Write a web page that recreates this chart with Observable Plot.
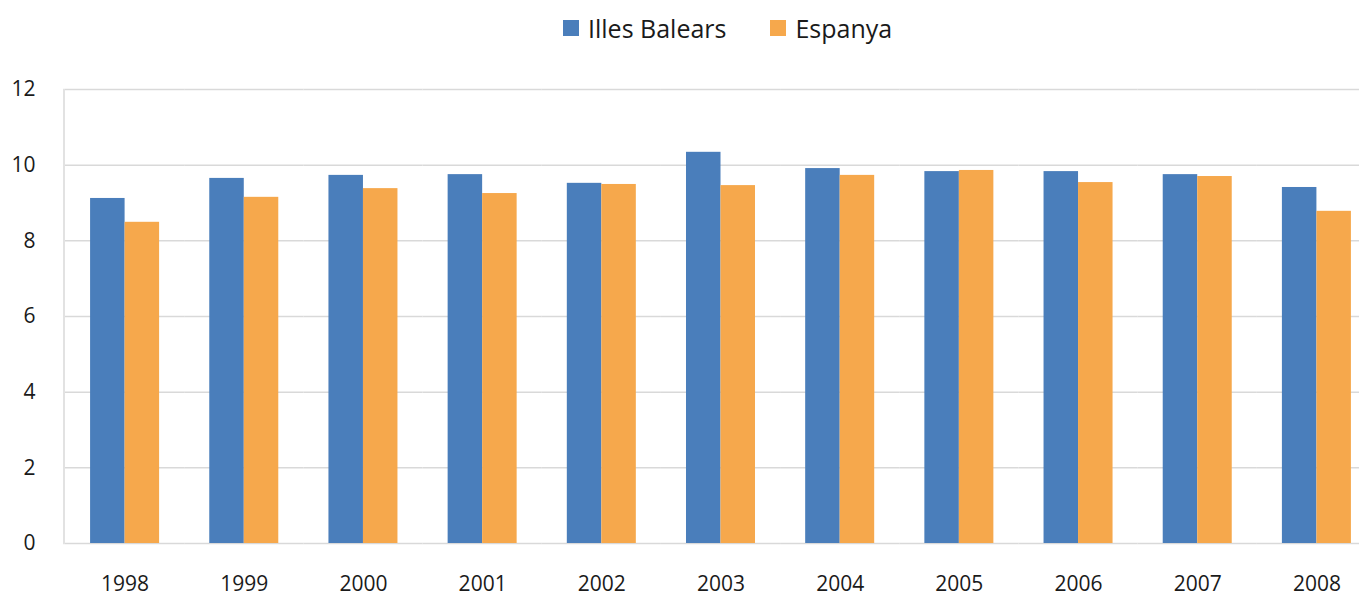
<!DOCTYPE html>
<html><head><meta charset="utf-8">
<script src="https://cdn.jsdelivr.net/npm/d3@7"></script>
<script src="https://cdn.jsdelivr.net/npm/@observablehq/plot@0.6"></script>
<style>
html,body{margin:0;padding:0;background:#fff;overflow:hidden;width:1359px;height:599px;}
#legend{height:56px;display:flex;justify-content:flex-start;align-items:center;gap:44px;padding-left:563px;box-sizing:border-box;font-family:"Open Sans",sans-serif;font-size:25px;color:#1a1a1a;}
#legend div{display:flex;align-items:center;}
#legend span.sw{display:inline-block;width:16px;height:16px;margin-right:9px;}
#chart svg{display:block;overflow:hidden}
</style></head>
<body>
<div id="legend"></div>
<div id="chart"></div>
<script>
const years = ["1998","1999","2000","2001","2002","2003","2004","2005","2006","2007","2008"];
const series = ["Illes Balears","Espanya"];
const balears = [9.12,9.65,9.73,9.75,9.52,10.34,9.91,9.83,9.83,9.75,9.41];
const espanya = [8.49,9.15,9.38,9.25,9.49,9.46,9.73,9.86,9.54,9.70,8.78];
const colors = ["#4a7ebb","#f6a84c"];
const yTicks = [0,2,4,6,8,10,12];

const data = [];
years.forEach((y,i)=>{
  data.push({year:y, series:series[0], value:balears[i]});
  data.push({year:y, series:series[1], value:espanya[i]});
});

const leg = document.getElementById("legend");
series.forEach((s,i)=>{
  const d = document.createElement("div");
  d.innerHTML = `<span class="sw" style="background:${colors[i]}"></span><span>${s}</span>`;
  leg.appendChild(d);
});

const font = "'Open Sans',sans-serif";
const chart = Plot.plot({
  width: 1359,
  height: 543,
  marginLeft: 65,
  marginRight: -17,
  marginTop: 33,
  marginBottom: 56,
  style: {fontFamily: font, fontSize: "21px", color: "#1a1a1a", background: "#fff"},
  fx: {domain: years, padding: 0, round: false, label: null},
  x: {domain: series, paddingInner: 0, paddingOuter: 0.727, round: false, axis: null},
  y: {domain: [0,12], label: null},
  color: {domain: series, range: colors},
  marks: [
    Plot.ruleY(yTicks, {stroke: "#d9d9d9", strokeWidth: 1.5}),
    Plot.frame({anchor: "left", facetAnchor: "left", stroke: "#d9d9d9", strokeWidth: 1.5, dx: -1.5}),
    Plot.barY(data, {fx: "year", x: "series", y: "value", fill: "series", inset: 0}),
    Plot.axisY({ticks: yTicks, tickSize: 0, tickPadding: 30, label: null, fontSize: 21}),
    Plot.axisFx({anchor: "bottom", tickSize: 0, tickPadding: 33, label: null, fontSize: 21})
  ]
});
document.getElementById("chart").appendChild(chart);
</script>
</body></html>
